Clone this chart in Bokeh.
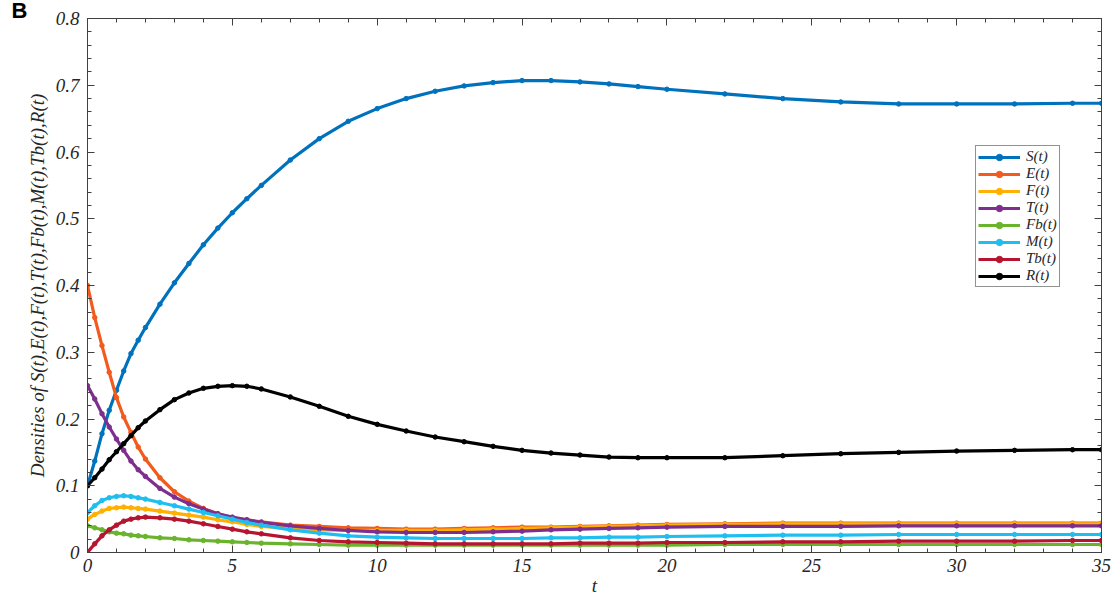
from bokeh.plotting import figure
from bokeh.models import (LinearAxis, Legend, LegendItem, Range1d,
                          FixedTicker, ColumnDataSource)
from bokeh.embed import file_html
from bokeh.resources import INLINE

# ---------------- data ----------------
t = [0, 0.25, 0.5, 0.75, 1, 1.25, 1.5, 1.75, 2, 2.5, 3, 3.5, 4, 4.5, 5, 5.5, 6,
     7, 8, 9, 10, 11, 12, 13, 14, 15, 16, 17, 18, 19, 20, 22, 24, 26, 28, 30,
     32, 34, 35]

S = [0.100, 0.137, 0.178, 0.213, 0.243, 0.272, 0.298, 0.318, 0.337, 0.372, 0.404,
     0.433, 0.461, 0.486, 0.509, 0.530, 0.550, 0.588, 0.620, 0.646, 0.665, 0.680,
     0.691, 0.699, 0.704, 0.707, 0.707, 0.705, 0.702, 0.698, 0.694, 0.687, 0.680,
     0.675, 0.672, 0.672, 0.672, 0.673, 0.673]

E = [0.400, 0.352, 0.310, 0.270, 0.232, 0.203, 0.180, 0.158, 0.140, 0.112, 0.091,
     0.077, 0.066, 0.058, 0.052, 0.049, 0.046, 0.041, 0.039, 0.037, 0.036, 0.035,
     0.035, 0.036, 0.037, 0.038, 0.038, 0.039, 0.040, 0.041, 0.042, 0.043, 0.044,
     0.044, 0.044, 0.044, 0.044, 0.044, 0.044]

F = [0.050, 0.057, 0.062, 0.066, 0.067, 0.068, 0.067, 0.066, 0.065, 0.062, 0.059,
     0.056, 0.053, 0.049, 0.046, 0.042, 0.039, 0.036, 0.034, 0.033, 0.033, 0.033,
     0.033, 0.034, 0.035, 0.036, 0.037, 0.038, 0.039, 0.040, 0.041, 0.042, 0.043,
     0.043, 0.043, 0.043, 0.043, 0.043, 0.043]

T = [0.250, 0.230, 0.208, 0.188, 0.170, 0.153, 0.137, 0.124, 0.114, 0.096, 0.083,
     0.073, 0.065, 0.058, 0.053, 0.049, 0.045, 0.040, 0.036, 0.033, 0.031, 0.030,
     0.030, 0.030, 0.031, 0.032, 0.034, 0.035, 0.036, 0.037, 0.038, 0.039, 0.039,
     0.039, 0.040, 0.040, 0.040, 0.040, 0.040]

Fb = [0.040, 0.037, 0.034, 0.031, 0.029, 0.028, 0.026, 0.025, 0.024, 0.022, 0.021,
      0.019, 0.018, 0.017, 0.016, 0.015, 0.014, 0.013, 0.012, 0.011, 0.011, 0.011,
      0.011, 0.011, 0.011, 0.011, 0.011, 0.011, 0.011, 0.011, 0.011, 0.012, 0.012,
      0.012, 0.012, 0.012, 0.012, 0.012, 0.012]

M = [0.060, 0.070, 0.078, 0.082, 0.084, 0.085, 0.084, 0.082, 0.080, 0.075, 0.070,
     0.065, 0.060, 0.055, 0.050, 0.045, 0.041, 0.034, 0.029, 0.025, 0.023, 0.022,
     0.021, 0.021, 0.021, 0.021, 0.022, 0.022, 0.023, 0.023, 0.024, 0.025, 0.026,
     0.026, 0.027, 0.027, 0.027, 0.027, 0.027]

Tb = [0.000, 0.013, 0.025, 0.034, 0.041, 0.047, 0.050, 0.052, 0.053, 0.052, 0.050,
      0.047, 0.043, 0.039, 0.035, 0.031, 0.028, 0.022, 0.018, 0.016, 0.015, 0.014,
      0.013, 0.013, 0.013, 0.013, 0.013, 0.014, 0.014, 0.014, 0.015, 0.015, 0.016,
      0.016, 0.017, 0.017, 0.017, 0.018, 0.018]

R = [0.100, 0.112, 0.125, 0.139, 0.151, 0.163, 0.175, 0.187, 0.197, 0.214, 0.229,
     0.239, 0.246, 0.249, 0.250, 0.249, 0.245, 0.233, 0.219, 0.204, 0.192, 0.182,
     0.173, 0.166, 0.159, 0.153, 0.149, 0.146, 0.143, 0.142, 0.142, 0.142, 0.145,
     0.148, 0.150, 0.152, 0.153, 0.154, 0.154]

names = ["S(t)", "E(t)", "F(t)", "T(t)", "Fb(t)", "M(t)", "Tb(t)", "R(t)"]
series = [S, E, F, T, Fb, M, Tb, R]
colors = ["#0072BD", "#F25A1E", "#FFB000", "#7E2F8E", "#6AB42D", "#1EBFF0",
          "#B5152F", "#000000"]

x_major = [0, 5, 10, 15, 20, 25, 30, 35]
x_minor = list(range(0, 36))
y_major = [0, 0.1, 0.2, 0.3, 0.4, 0.5, 0.6, 0.7, 0.8]
y_minor = [i / 50 for i in range(0, 41)]

# ---------------- figure ----------------
SERIF = "Liberation Serif"
AX = "#404040"

p = figure(width=1113, height=601, output_backend="svg", toolbar_location=None,
           x_range=Range1d(0, 35), y_range=Range1d(0, 0.8),
           min_border_left=87, min_border_right=12, min_border_top=0,
           min_border_bottom=49, title="B")
p.title.align = "left"
p.title.offset = -76
p.title.standoff = -9
p.title.text_font = "Liberation Sans"
p.title.text_font_style = "bold"
p.title.text_font_size = "22px"
p.title.text_color = "black"

p.xgrid.visible = False
p.ygrid.visible = False
p.outline_line_color = AX
p.outline_line_width = 1
p.background_fill_color = "white"
p.border_fill_color = "white"


def style_axis(ax, major, minor, labels=True):
    ax.ticker = FixedTicker(ticks=major, minor_ticks=minor)
    ax.axis_line_color = AX
    ax.major_tick_line_color = AX
    ax.minor_tick_line_color = AX
    ax.major_tick_in = 7
    ax.major_tick_out = 0
    ax.minor_tick_in = 4
    ax.minor_tick_out = 0
    if labels:
        ax.major_label_text_font = SERIF
        ax.major_label_text_font_style = "italic"
        ax.major_label_text_font_size = "19px"
        ax.major_label_text_color = "#262626"
        ax.major_label_standoff = 6
    else:
        ax.major_label_text_font_size = "0px"
        ax.major_label_standoff = 0
        ax.major_label_text_alpha = 0


style_axis(p.xaxis[0], x_major, x_minor)
style_axis(p.yaxis[0], y_major, y_minor)
p.yaxis[0].major_label_overrides = {0: "0"}
p.yaxis[0].major_label_standoff = 8
p.xaxis[0].axis_label = "t"
p.yaxis[0].axis_label = "Densities of S(t),E(t),F(t),T(t),Fb(t),M(t),Tb(t),R(t)"
for ax in (p.xaxis[0], p.yaxis[0]):
    ax.axis_label_text_font = SERIF
    ax.axis_label_text_font_style = "italic"
    ax.axis_label_text_font_size = "19px"
    ax.axis_label_text_color = "#262626"
p.xaxis[0].axis_label_standoff = 0
p.yaxis[0].axis_label_standoff = 5

top = LinearAxis()
style_axis(top, x_major, x_minor, labels=False)
p.add_layout(top, "above")
right = LinearAxis()
style_axis(right, y_major, y_minor, labels=False)
p.add_layout(right, "right")

items = []
for name, ys, c in zip(names, series, colors):
    src = ColumnDataSource(dict(t=t, y=ys))
    ln = p.line("t", "y", source=src, line_color=c, line_width=3.2)
    sc = p.scatter("t", "y", source=src, marker="circle", size=4.5,
                   fill_color=c, line_color=c)
    items.append(LegendItem(label=name, renderers=[ln, sc]))

legend = Legend(items=items, location=(888, 265), orientation="vertical",
                label_text_font=SERIF, label_text_font_style="italic",
                label_text_font_size="15px", label_text_color="#262626",
                glyph_width=42, glyph_height=16, label_height=16,
                label_standoff=6, spacing=0, padding=2, margin=0,
                border_line_color="#262626", border_line_width=1,
                background_fill_color="white", background_fill_alpha=1)
p.add_layout(legend, "center")

open("out.html", "w").write(file_html(p, INLINE))
